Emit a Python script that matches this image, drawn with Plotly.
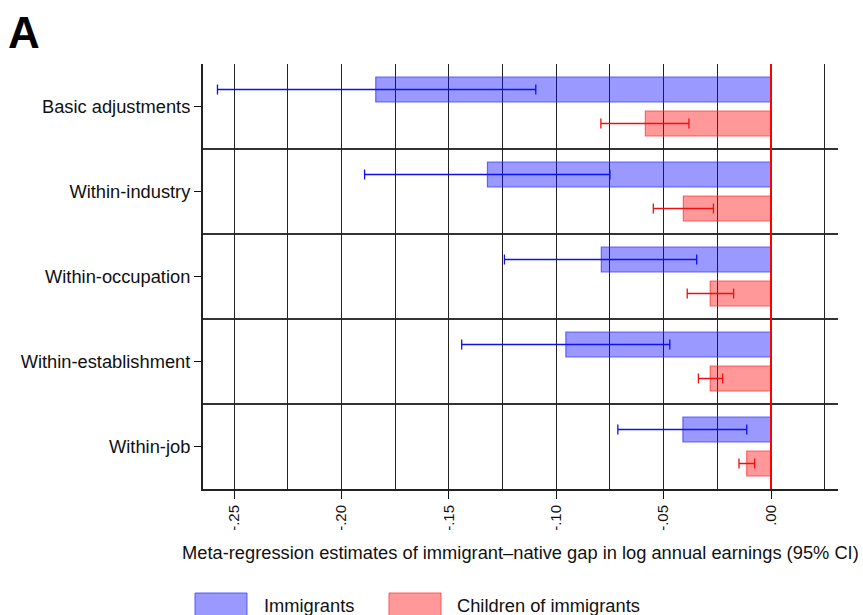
import plotly.graph_objects as go

# Meta-regression estimates (log annual earnings gap vs. natives) with 95% CIs
categories = ["Basic adjustments", "Within-industry", "Within-occupation",
              "Within-establishment", "Within-job"]

imm_est = [-0.184, -0.132, -0.079, -0.0955, -0.041]
imm_lo = [-0.2577, -0.1892, -0.1241, -0.1440, -0.0713]
imm_hi = [-0.1095, -0.0750, -0.0346, -0.0471, -0.0113]

child_est = [-0.0585, -0.0408, -0.0283, -0.0283, -0.0113]
child_lo = [-0.0792, -0.0548, -0.0390, -0.0338, -0.0149]
child_hi = [-0.0382, -0.0268, -0.0174, -0.0225, -0.0076]

tick_vals = [-0.25, -0.20, -0.15, -0.10, -0.05, 0.0]
tick_text = ["-.25", "-.20", "-.15", "-.10", "-.05", ".00"]

FONT = "Liberation Sans, Arial, sans-serif"
W, H = 863, 615
L, R, T, B = 203, 25, 64, 126
PW, PH = W - L - R, H - T - B


def px_x(p):
    return (p - L) / PW


def px_y(p):
    return (H - B - p) / PH


def err(est, lo, hi):
    return [h - e for e, h in zip(est, hi)], [e - l for e, l in zip(est, lo)]


imm_plus, imm_minus = err(imm_est, imm_lo, imm_hi)
ch_plus, ch_minus = err(child_est, child_lo, child_hi)

fig = go.Figure()
fig.add_trace(go.Bar(
    name="Immigrants", orientation="h", y=categories, x=imm_est,
    marker=dict(color="rgba(0,0,255,0.4)", line=dict(color="rgba(60,60,255,0.75)", width=1.2)),
    error_x=dict(type="data", symmetric=False, array=imm_plus, arrayminus=imm_minus,
                 color="#1010ee", thickness=1.3, width=5),
    showlegend=False,
))
fig.add_trace(go.Bar(
    name="Children of immigrants", orientation="h", y=categories, x=child_est,
    marker=dict(color="rgba(255,0,0,0.4)", line=dict(color="rgba(255,60,60,0.75)", width=1.2)),
    error_x=dict(type="data", symmetric=False, array=ch_plus, arrayminus=ch_minus,
                 color="#ee1010", thickness=1.3, width=5),
    showlegend=False,
))

shapes = []
# separators between category groups
for k in range(1, len(categories)):
    shapes.append(dict(type="line", xref="paper", yref="y", x0=0, x1=1,
                       y0=k - 0.5, y1=k - 0.5, line=dict(color="#333333", width=2),
                       layer="below"))
# zero reference line
shapes.append(dict(type="line", xref="x", yref="paper", x0=0, x1=0, y0=0, y1=1,
                   line=dict(color="#ff0000", width=2), layer="above"))

# legend swatches
legend_items = [("Immigrants", "rgba(0,0,255,0.4)", "rgba(60,60,255,0.8)", 195, 262),
                ("Children of immigrants", "rgba(255,0,0,0.4)", "rgba(255,60,60,0.8)", 389, 455)]
annotations = []
for label, fill, edge, sx, tx in legend_items:
    shapes.append(dict(type="rect", xref="paper", yref="paper",
                       x0=px_x(sx), x1=px_x(sx + 52), y0=px_y(593), y1=px_y(622),
                       fillcolor=fill, line=dict(color=edge, width=1)))
    annotations.append(dict(xref="paper", yref="paper", x=px_x(tx), y=px_y(605),
                            xanchor="left", yanchor="middle", text=label, showarrow=False,
                            font=dict(family=FONT, size=18.3, color="#111")))

annotations.append(dict(xref="paper", yref="paper", x=0.5, y=px_y(552),
                        xanchor="center", yanchor="middle", showarrow=False,
                        text="Meta-regression estimates of immigrant\u2013native gap in log annual earnings (95% CI)",
                        font=dict(family=FONT, size=18.3, color="#111")))
annotations.append(dict(xref="paper", yref="paper", x=px_x(6), y=px_y(33),
                        xanchor="left", yanchor="middle", showarrow=False,
                        text="<b>A</b>", font=dict(family=FONT, size=44, color="#000")))

x_lo = (L - 771) / 2148
x_hi = (W - R - 771) / 2148

fig.update_layout(
    width=W, height=H,
    margin=dict(l=L, r=R, t=T, b=B),
    paper_bgcolor="white", plot_bgcolor="white",
    barmode="group", bargap=0.2, bargroupgap=0.265,
    font=dict(family=FONT, color="#111"),
    shapes=shapes, annotations=annotations,
    xaxis=dict(
        range=[x_lo, x_hi], tickvals=tick_vals, ticktext=tick_text,
        tickangle=-90, tickfont=dict(size=15), ticks="outside", ticklen=8,
        tickcolor="#111", showgrid=True, gridcolor="#222", gridwidth=1,
        minor=dict(dtick=0.025, tick0=0, showgrid=True, gridcolor="#222", gridwidth=1),
        showline=True, linecolor="#222", linewidth=2, zeroline=False,
    ),
    yaxis=dict(
        range=[4.5, -0.5], showgrid=False, ticks="outside", ticklen=7,
        tickcolor="#111", tickfont=dict(size=18.3), showline=True,
        linecolor="#222", linewidth=2, zeroline=False,
    ),
)

fig.write_html("out.html")
